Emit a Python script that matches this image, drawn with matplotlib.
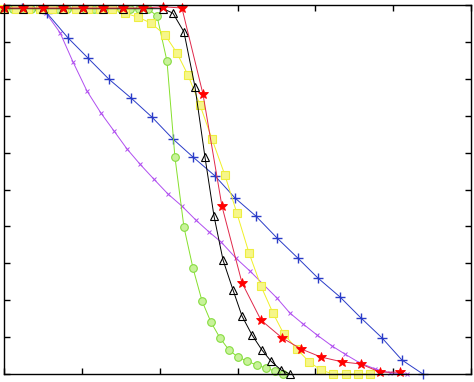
import numpy as np
import matplotlib
matplotlib.use("Agg")
import matplotlib.pyplot as plt

# values (x axis 0..30, y axis 0..1)
blue_x = [0, 1.16, 2.76, 4.11, 5.40, 6.74, 8.16, 9.51, 10.85, 12.14, 13.55, 14.84,
          16.18, 17.53, 18.88, 20.17, 21.58, 22.93, 24.28, 25.56, 26.91]
blue_y = [0.993, 0.993, 0.978, 0.911, 0.856, 0.799, 0.748, 0.696, 0.637, 0.588, 0.537,
          0.477, 0.428, 0.369, 0.314, 0.260, 0.209, 0.152, 0.098, 0.038, 0.0]

purple_x = [0, 0.90, 1.80, 2.70, 3.60, 4.43, 5.33, 6.23, 7.06, 7.90, 8.73, 9.63, 10.53,
            11.43, 12.33, 13.17, 13.94, 14.90, 15.80, 16.63, 17.53, 18.37, 19.20, 20.10,
            21.07, 21.90, 22.86, 23.83, 24.79, 25.88]
purple_y = [0.992, 0.992, 0.989, 0.978, 0.925, 0.846, 0.767, 0.707, 0.659, 0.610, 0.569,
            0.528, 0.488, 0.455, 0.417, 0.385, 0.358, 0.314, 0.279, 0.244, 0.206, 0.165,
            0.136, 0.106, 0.076, 0.054, 0.030, 0.014, 0.003, 0.0]

red_x = [0, 1.22, 2.50, 3.79, 5.07, 6.36, 7.64, 8.93, 10.21, 11.43, 12.78, 14.00, 15.29,
         16.51, 17.86, 19.08, 20.36, 21.71, 22.93, 24.15, 25.43]
red_y = [0.992, 0.992, 0.992, 0.992, 0.992, 0.992, 0.992, 0.992, 0.995, 0.992, 0.759,
         0.455, 0.247, 0.146, 0.098, 0.068, 0.046, 0.033, 0.027, 0.005, 0.005]

black_x = [0, 1.22, 2.50, 3.79, 5.07, 6.36, 7.64, 8.93, 10.21, 10.85, 11.56, 12.27, 12.91,
           13.49, 14.07, 14.71, 15.29, 15.93, 16.57, 17.15, 17.79, 18.37]
black_y = [0.99, 0.99, 0.99, 0.99, 0.99, 0.99, 0.99, 0.99, 0.99, 0.978, 0.927, 0.778,
           0.588, 0.428, 0.309, 0.228, 0.157, 0.106, 0.065, 0.035, 0.011, 0.0]

green_x = [0, 0.58, 1.16, 1.73, 2.31, 2.89, 3.47, 4.05, 4.62, 5.20, 5.78, 6.36, 6.94,
           7.51, 8.09, 8.67, 9.25, 9.83, 10.47, 10.98, 11.56, 12.14, 12.72, 13.29, 13.87,
           14.45, 15.03, 15.61, 16.25, 16.83, 17.41, 17.92]
green_y = [0.99, 0.99, 0.99, 0.99, 0.99, 0.99, 0.99, 0.99, 0.99, 0.99, 0.99, 0.99, 0.99,
           0.99, 0.99, 0.99, 0.99, 0.970, 0.848, 0.588, 0.398, 0.287, 0.198, 0.141, 0.098,
           0.065, 0.046, 0.035, 0.024, 0.016, 0.008, 0.0]

yellow_x = [0, 0.77, 1.54, 2.31, 3.08, 3.85, 4.62, 5.40, 6.17, 6.94, 7.77, 8.61, 9.44,
            10.34, 11.11, 11.82, 12.59, 13.36, 14.19, 14.96, 15.74, 16.51, 17.28, 17.98,
            18.82, 19.59, 20.36, 21.13, 21.97, 22.74, 23.51]
yellow_y = [0.99, 0.99, 0.99, 0.99, 0.99, 0.99, 0.99, 0.99, 0.99, 0.99, 0.978, 0.967,
            0.951, 0.919, 0.870, 0.810, 0.729, 0.637, 0.539, 0.436, 0.328, 0.238, 0.165,
            0.108, 0.068, 0.033, 0.011, 0.0, 0.0, 0.0, 0.0]

fig = plt.figure(figsize=(4.74, 3.82), dpi=100)
ax = fig.add_axes([4 / 474, 8 / 382, 467 / 474, 369 / 382])

kw = dict(lw=0.7, clip_on=False)
ax.plot(purple_x, purple_y, color='#b04ef0', marker='x', ms=3.5, mew=0.7, **kw)
ax.plot(blue_x, blue_y, color='#2a3cc8', marker='+', ms=7, mew=1.0, **kw)
ax.plot(green_x, green_y, color='#86e02c', marker='o', ms=5.5, mfc='#c8f29a',
        mec='#86dc40', mew=0.8, **kw)
ax.plot(yellow_x, yellow_y, color='#f0f028', marker='s', ms=5.5, mfc='#f6f68a',
        mec='#eeee40', mew=0.8, **kw)
ax.plot(black_x, black_y, color='black', marker='^', ms=6, mfc='none', mew=0.8, **kw)
ax.plot(red_x, red_y, color='#e0284a', marker='*', ms=7, mfc='red', mec='red', mew=0.6, **kw)

ax.set_xlim(0, 30)
ax.set_ylim(0, 1)
ax.set_xticks(np.arange(0, 31, 5))
ax.set_yticks(np.arange(0, 1.01, 0.1))
ax.tick_params(direction='in', top=True, right=True, length=4, width=1,
               labelbottom=False, labelleft=False)
for s in ax.spines.values():
    s.set_linewidth(1.0)

fig.savefig("out.png", dpi=100)
